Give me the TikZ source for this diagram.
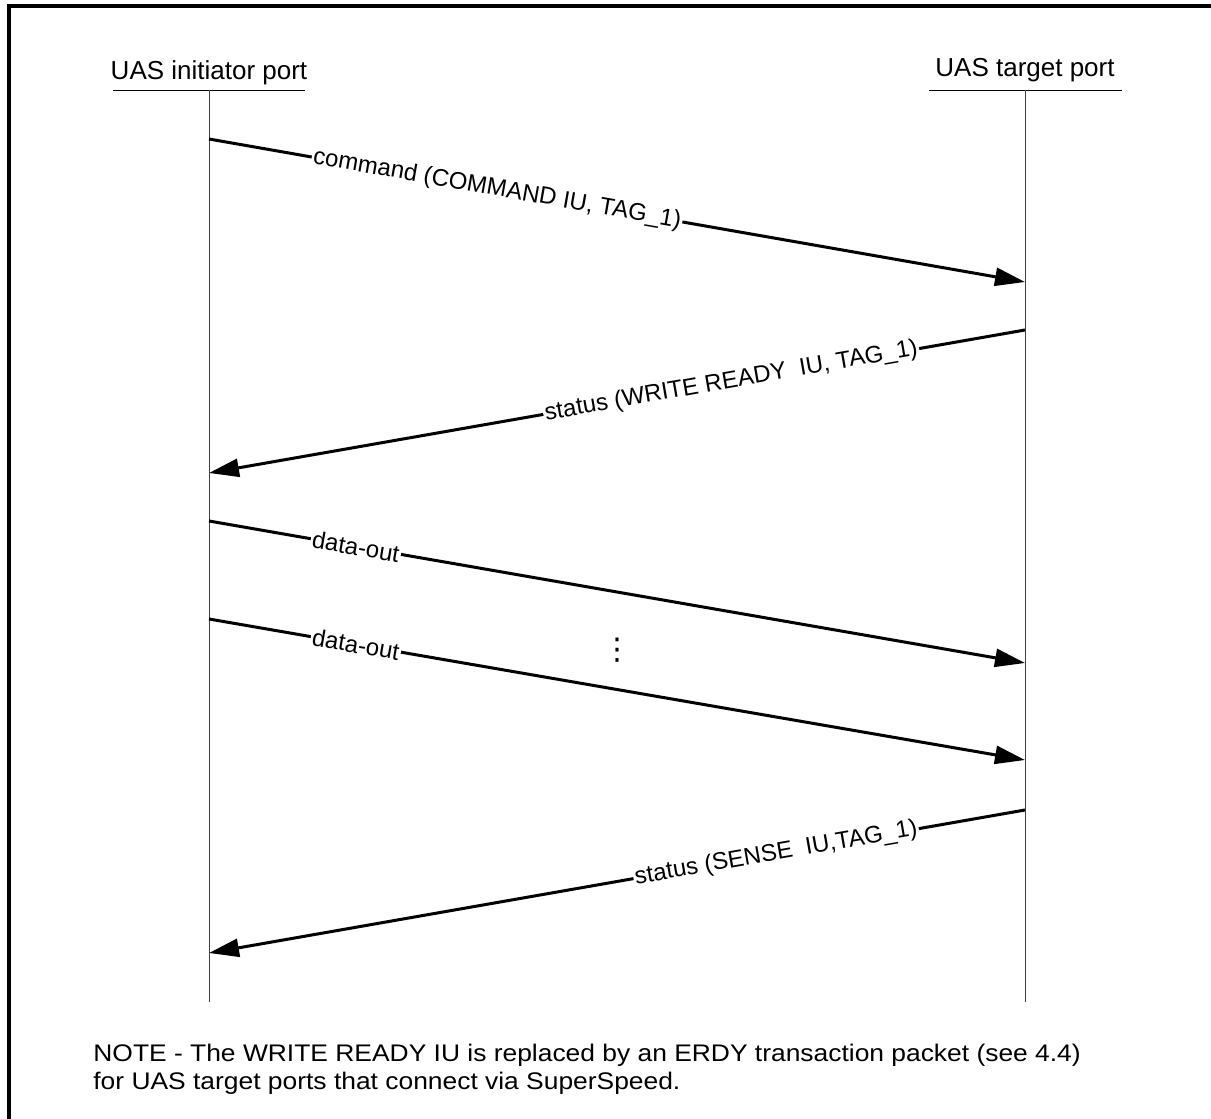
\documentclass[tikz,border=0pt]{standalone}
\usepackage{fontspec}
\setmainfont{Liberation Sans}
\newfontfamily\notefont[FakeStretch=1.1]{Liberation Sans}
\newfontfamily\symfont{DejaVu Sans}
\usetikzlibrary{arrows.meta}

\tikzset{
  msg/.style={line width=1.5pt, -{Triangle[length=15pt,width=9pt]}},
  msglabel/.style={fill=white, inner sep=0.8pt, sloped, font=\fontsize{12}{14}\selectfont},
  port/.style={anchor=base, inner sep=0pt, font=\fontsize{13}{15}\selectfont},
  notetext/.style={anchor=base west, inner sep=0pt, font=\notefont\fontsize{12}{14}\selectfont},
  lifeline/.style={line width=0.5pt, black!75},
}

\begin{document}
\begin{tikzpicture}[x=0.5pt, y=-0.5pt]
    \useasboundingbox (0,0) rectangle (1211,1119);
    % outer frame, cut by the page edge
    \draw[line width=1.6pt] (9,1125) -- (9,6) -- (1220,6);

    % port headers
    \node[port] (ini) at (209,79) {UAS initiator port};
    \node[port] (tgt) at (1025,76) {UAS target port};
    \draw[line width=0.5pt] (113,90) -- (305,90);
    \draw[line width=0.5pt] (929,90) -- (1122,90);

    % lifelines
    \coordinate (initop) at (209,90);
    \coordinate (inibot) at (209,1002);
    \coordinate (tgttop) at (1025,90);
    \coordinate (tgtbot) at (1025,1002);
    \draw[lifeline] (initop) -- (inibot);
    \draw[lifeline] (tgttop) -- (tgtbot);

    % message end points
    \coordinate (cmdA) at (209,139);
    \coordinate (cmdB) at (1025,282);
    \coordinate (wrA) at (1025,330);
    \coordinate (wrB) at (209,473);
    \coordinate (doA) at (209,521);
    \coordinate (doB) at (1025,663);
    \coordinate (dnA) at (209,619);
    \coordinate (dnB) at (1025,760);
    \coordinate (snA) at (1025,810);
    \coordinate (snB) at (209,953);

    % messages
    \draw[msg] (cmdA) -- node[msglabel, pos=0.353] (cmd) {command (COMMAND IU, TAG\_1)} (cmdB);
    \draw[msg] (wrA) -- node[msglabel, pos=0.36] (wr) {status (WRITE READY\ \ IU, TAG\_1)} (wrB);
    \draw[msg] (doA) -- node[msglabel, pos=0.18] (do1) {data-out} (doB);
    \draw[msg] (dnA) -- node[msglabel, pos=0.18] (don) {data-out} (dnB);
    \node[inner sep=0pt, font=\symfont\fontsize{15}{15}\selectfont] (dots) at (617,650) {⋮};
    \draw[msg] (snA) -- node[msglabel, pos=0.305] (sense) {status (SENSE\ \ IU,TAG\_1)} (snB);

    % note
    \node[notetext] (note1) at (93,1061)
        {NOTE - The WRITE READY IU is replaced by an ERDY transaction packet (see 4.4)};
    \node[notetext] (note2) at (93,1089)
        {for UAS target ports that connect via SuperSpeed.};
\end{tikzpicture}
\end{document}
